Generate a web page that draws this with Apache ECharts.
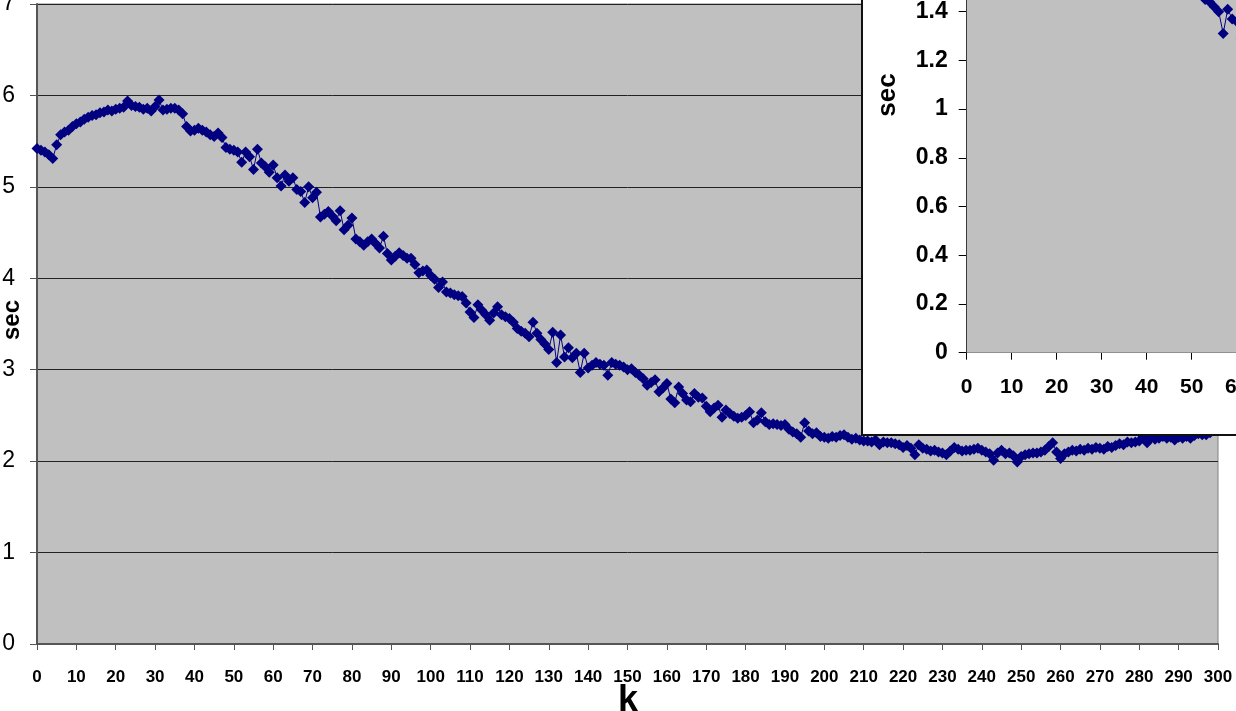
<!DOCTYPE html>
<html>
<head>
<meta charset="utf-8">
<script src="https://cdn.jsdelivr.net/npm/echarts@6/dist/echarts.min.js"></script>
<style>html,body{margin:0;padding:0;background:#fff;}#c{width:1236px;height:711px;}</style>
</head>
<body>
<div id="c"></div>
<script>
// main series: k = 0..298
var mainValues = [
5.42,5.40,5.38,5.35,5.31,5.46,5.57,5.60,5.62,5.66,
5.69,5.71,5.74,5.76,5.78,5.79,5.81,5.82,5.84,5.83,
5.85,5.86,5.87,5.94,5.89,5.88,5.87,5.85,5.86,5.83,
5.88,5.95,5.84,5.85,5.86,5.86,5.84,5.80,5.66,5.61,
5.62,5.64,5.62,5.60,5.57,5.55,5.59,5.54,5.43,5.41,
5.40,5.38,5.27,5.38,5.33,5.19,5.41,5.26,5.22,5.16,
5.24,5.10,5.01,5.13,5.06,5.10,4.97,4.95,4.83,5.00,
4.88,4.94,4.67,4.70,4.73,4.68,4.63,4.74,4.53,4.58,
4.66,4.43,4.40,4.36,4.40,4.43,4.38,4.33,4.46,4.27,
4.20,4.24,4.28,4.25,4.22,4.22,4.15,4.06,4.08,4.09,
4.03,3.99,3.90,3.96,3.85,3.84,3.82,3.81,3.80,3.73,
3.63,3.57,3.71,3.65,3.60,3.54,3.62,3.69,3.60,3.58,
3.56,3.52,3.45,3.42,3.40,3.36,3.52,3.40,3.33,3.28,
3.22,3.41,3.08,3.38,3.14,3.24,3.13,3.18,2.97,3.18,
3.02,3.05,3.08,3.06,3.05,2.94,3.08,3.06,3.05,3.03,
3.00,3.01,2.97,2.94,2.90,2.83,2.86,2.89,2.76,2.80,
2.85,2.68,2.64,2.81,2.74,2.67,2.65,2.74,2.70,2.69,
2.60,2.54,2.58,2.61,2.48,2.56,2.52,2.49,2.47,2.48,
2.50,2.54,2.42,2.45,2.53,2.43,2.40,2.41,2.40,2.39,
2.40,2.35,2.32,2.30,2.26,2.42,2.33,2.30,2.31,2.27,
2.26,2.25,2.27,2.26,2.28,2.29,2.26,2.24,2.25,2.23,
2.22,2.22,2.21,2.23,2.18,2.21,2.20,2.20,2.19,2.18,
2.15,2.17,2.14,2.07,2.18,2.14,2.13,2.11,2.12,2.10,
2.09,2.07,2.11,2.15,2.13,2.11,2.12,2.12,2.13,2.14,
2.12,2.10,2.08,2.01,2.09,2.12,2.08,2.09,2.06,1.99,
2.05,2.07,2.08,2.09,2.09,2.10,2.12,2.16,2.20,2.10,
2.03,2.08,2.10,2.12,2.11,2.13,2.12,2.14,2.13,2.15,
2.14,2.13,2.16,2.15,2.17,2.19,2.18,2.21,2.20,2.21,
2.22,2.27,2.20,2.26,2.24,2.25,2.27,2.25,2.26,2.23,
2.26,2.25,2.27,2.25,2.28,2.30,2.29,2.29,2.31
];
// inset series (only the visible part near k = 48..62)
var insetK = [48,49,50,51,52,53,54,55,56,57,58,59,60,61,62];
var insetValues = [1.62,1.58,1.55,1.52,1.49,1.45,1.44,1.42,1.40,1.31,1.41,1.37,1.36,1.29,1.33];

var mainData = mainValues.map(function(v,i){return [i,v];});
var insetData = insetK.map(function(k,i){return [k,insetValues[i]];});

var NAVY = '#000080';
var chart = echarts.init(document.getElementById('c'), null, {renderer:'canvas'});
var insetPxPerY = 243.6, insetZeroY = 352.7, insetMax = 1.6;
chart.setOption({
  animation:false,
  backgroundColor:'#ffffff',
  grid:[
    {left:37, right:18, top:4, bottom:67, show:true, backgroundColor:'#c0c0c0', borderColor:'#808080', borderWidth:1, containLabel:false, outerBoundsMode:'none'},
    {left:966.7, width:450, top:insetZeroY - insetMax*insetPxPerY, height:insetMax*insetPxPerY, show:true, backgroundColor:'#c0c0c0', borderWidth:0, zlevel:1, z:1, containLabel:false, outerBoundsMode:'none'}
  ],
  xAxis:[
    {type:'value', gridIndex:0, min:0, max:300, interval:10,
     axisLine:{show:true, lineStyle:{color:'#555', width:2}},
     axisTick:{show:true, length:6, lineStyle:{color:'#555'}},
     splitLine:{show:false},
     axisLabel:{margin:25, fontFamily:'Liberation Sans', fontWeight:'bold', fontSize:17, color:'#000', showMinLabel:true, showMaxLabel:true}},
    {type:'value', gridIndex:1, min:0, max:100, interval:10, zlevel:1,
     axisLine:{show:true, onZero:false, lineStyle:{color:'#000', width:1}},
     axisTick:{show:true, length:7, lineStyle:{color:'#000'}},
     splitLine:{show:false},
     axisLabel:{margin:24, fontFamily:'Liberation Sans', fontWeight:'bold', fontSize:21, color:'#000'}}
  ],
  yAxis:[
    {type:'value', gridIndex:0, min:0, max:7, interval:1,
     axisLine:{show:true, lineStyle:{color:'#555', width:2}},
     axisTick:{show:true, length:7, lineStyle:{color:'#555'}},
     splitLine:{show:true, lineStyle:{color:'#222', width:1}},
     axisLabel:{margin:22, fontFamily:'Liberation Sans', fontSize:23, color:'#000'}},
    {type:'value', gridIndex:1, min:0, max:insetMax, interval:0.2, zlevel:1,
     axisLine:{show:true, lineStyle:{color:'#000', width:1}},
     axisTick:{show:true, length:8, lineStyle:{color:'#000'}},
     splitLine:{show:true, lineStyle:{color:'#222', width:1}},
     axisLabel:{margin:19, fontFamily:'Liberation Sans', fontWeight:'bold', fontSize:23, color:'#000'}}
  ],
  graphic:[
    {type:'rect', zlevel:1, z:-10, shape:{x:862, y:-20, width:500, height:455},
     style:{fill:'#ffffff', stroke:'#111', lineWidth:2}},
    {type:'text', zlevel:1, z:10, x:888, y:95, rotation:Math.PI/2,
     style:{text:'sec', fontFamily:'Liberation Sans', fontWeight:'bold', fontSize:26, fill:'#000', textAlign:'center', textVerticalAlign:'middle'}},
    {type:'text', x:12, y:320, rotation:Math.PI/2,
     style:{text:'sec', fontFamily:'Liberation Sans', fontWeight:'bold', fontSize:24, fill:'#000', textAlign:'center', textVerticalAlign:'middle'}},
    {type:'text', x:628, y:683,
     style:{text:'k', fontFamily:'Liberation Sans', fontWeight:'bold', fontSize:36, fill:'#000', textAlign:'center', textVerticalAlign:'top'}}
  ],
  series:[
    {type:'line', xAxisIndex:0, yAxisIndex:0, data:mainData, symbol:'diamond', symbolSize:11,
     showAllSymbol:true, itemStyle:{color:NAVY}, lineStyle:{color:NAVY, width:1}},
    {type:'line', xAxisIndex:1, yAxisIndex:1, data:insetData, zlevel:1, z:5, symbol:'diamond', symbolSize:11,
     showAllSymbol:true, clip:true, itemStyle:{color:NAVY}, lineStyle:{color:NAVY, width:1}}
  ]
});
</script>
</body>
</html>
